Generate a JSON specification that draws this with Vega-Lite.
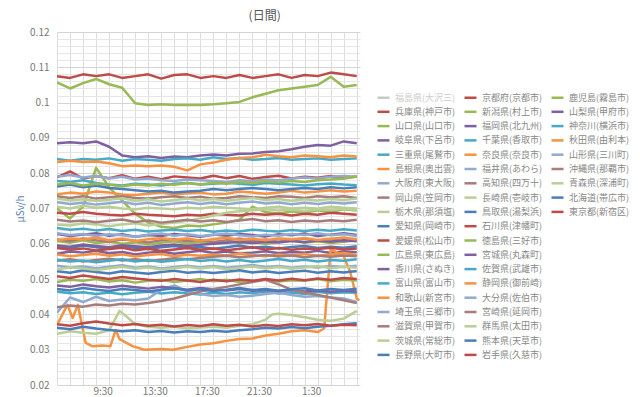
{
"$schema":"https://vega.github.io/schema/vega-lite/v6.json",
"width":303,"height":353,
"autosize":{"type":"none"},
"padding":{"left":57,"top":32,"right":280,"bottom":12},
"background":"white",
"title":{"text":"(日間)","anchor":"start","dx":233,"offset":4,"fontSize":12,"fontWeight":"normal","color":"#555555","font":"Noto Sans CJK JP"},
"datasets":{
"names":[{"s":0,"n":"福島県(大沢三)"},{"s":1,"n":"兵庫県(神戸市)"},{"s":2,"n":"山口県(山口市)"},{"s":3,"n":"岐阜県(下呂市)"},{"s":4,"n":"三重県(尾鷲市)"},{"s":5,"n":"島根県(奥出雲)"},{"s":6,"n":"大阪府(東大阪)"},{"s":7,"n":"岡山県(笠岡市)"},{"s":8,"n":"栃木県(那須塩)"},{"s":9,"n":"愛知県(岡崎市)"},{"s":10,"n":"愛媛県(松山市)"},{"s":11,"n":"広島県(東広島)"},{"s":12,"n":"香川県(さぬき)"},{"s":13,"n":"富山県(富山市)"},{"s":14,"n":"和歌山(新宮市)"},{"s":15,"n":"埼玉県(三郷市)"},{"s":16,"n":"滋賀県(甲賀市)"},{"s":17,"n":"茨城県(常総市)"},{"s":18,"n":"長野県(大町市)"},{"s":19,"n":"京都府(京都市)"},{"s":20,"n":"新潟県(村上市)"},{"s":21,"n":"福岡県(北九州)"},{"s":22,"n":"千葉県(香取市)"},{"s":23,"n":"奈良県(奈良市)"},{"s":24,"n":"福井県(あわら)"},{"s":25,"n":"高知県(四万十)"},{"s":26,"n":"長崎県(壱岐市)"},{"s":27,"n":"鳥取県(湯梨浜)"},{"s":28,"n":"石川県(津幡町)"},{"s":29,"n":"徳島県(三好市)"},{"s":30,"n":"宮城県(丸森町)"},{"s":31,"n":"佐賀県(武雄市)"},{"s":32,"n":"静岡県(御前崎)"},{"s":33,"n":"大分県(佐伯市)"},{"s":34,"n":"宮崎県(延岡市)"},{"s":35,"n":"群馬県(太田市)"},{"s":36,"n":"熊本県(天草市)"},{"s":37,"n":"岩手県(久慈市)"},{"s":38,"n":"鹿児島(霧島市)"},{"s":39,"n":"山梨県(甲府市)"},{"s":40,"n":"神奈川(横浜市)"},{"s":41,"n":"秋田県(由利本)"},{"s":42,"n":"山形県(三川町)"},{"s":43,"n":"沖縄県(那覇市)"},{"s":44,"n":"青森県(深浦町)"},{"s":45,"n":"北海道(帯広市)"},{"s":46,"n":"東京都(新宿区)"}],
"d":[
{"s":1,"t":6,"v":0.0788},{"s":1,"t":7,"v":0.0805},{"s":1,"t":8,"v":0.0785},{"s":1,"t":9,"v":0.0792},{"s":1,"t":10,"v":0.0786},{"s":1,"t":11,"v":0.0794},{"s":1,"t":12,"v":0.0784},{"s":1,"t":13,"v":0.079},{"s":1,"t":14,"v":0.0783},{"s":1,"t":15,"v":0.0791},{"s":1,"t":16,"v":0.0788},{"s":1,"t":17,"v":0.0785},{"s":1,"t":18,"v":0.0793},{"s":1,"t":19,"v":0.0786},{"s":1,"t":20,"v":0.0792},{"s":1,"t":21,"v":0.0784},{"s":1,"t":22,"v":0.0789},{"s":1,"t":23,"v":0.0793},{"s":1,"t":24,"v":0.0785},{"s":1,"t":25,"v":0.079},{"s":1,"t":26,"v":0.0787},{"s":1,"t":27,"v":0.0792},{"s":1,"t":28,"v":0.0786},{"s":1,"t":29,"v":0.0791},
{"s":2,"t":6,"v":0.07},{"s":2,"t":7,"v":0.0672},{"s":2,"t":8,"v":0.0705},{"s":2,"t":9,"v":0.0815},{"s":2,"t":10,"v":0.076},{"s":2,"t":11,"v":0.0722},{"s":2,"t":12,"v":0.0685},{"s":2,"t":13,"v":0.066},{"s":2,"t":14,"v":0.0648},{"s":2,"t":15,"v":0.0645},{"s":2,"t":16,"v":0.0652},{"s":2,"t":17,"v":0.065},{"s":2,"t":18,"v":0.0655},{"s":2,"t":19,"v":0.066},{"s":2,"t":20,"v":0.0668},{"s":2,"t":21,"v":0.0705},{"s":2,"t":22,"v":0.069},{"s":2,"t":23,"v":0.0685},{"s":2,"t":24,"v":0.0692},{"s":2,"t":25,"v":0.0688},{"s":2,"t":26,"v":0.0695},{"s":2,"t":27,"v":0.069},{"s":2,"t":28,"v":0.0698},{"s":2,"t":29,"v":0.0694},
{"s":3,"t":6,"v":0.0572},{"s":3,"t":7,"v":0.0578},{"s":3,"t":8,"v":0.0575},{"s":3,"t":9,"v":0.058},{"s":3,"t":10,"v":0.0573},{"s":3,"t":11,"v":0.0577},{"s":3,"t":12,"v":0.057},{"s":3,"t":13,"v":0.0575},{"s":3,"t":14,"v":0.0578},{"s":3,"t":15,"v":0.0572},{"s":3,"t":16,"v":0.0576},{"s":3,"t":17,"v":0.058},{"s":3,"t":18,"v":0.0574},{"s":3,"t":19,"v":0.0578},{"s":3,"t":20,"v":0.0572},{"s":3,"t":21,"v":0.0575},{"s":3,"t":22,"v":0.0579},{"s":3,"t":23,"v":0.0573},{"s":3,"t":24,"v":0.0577},{"s":3,"t":25,"v":0.0575},{"s":3,"t":26,"v":0.058},{"s":3,"t":27,"v":0.0574},{"s":3,"t":28,"v":0.0578},{"s":3,"t":29,"v":0.0576},
{"s":4,"t":6,"v":0.0778},{"s":4,"t":7,"v":0.0775},{"s":4,"t":8,"v":0.078},{"s":4,"t":9,"v":0.0772},{"s":4,"t":10,"v":0.0768},{"s":4,"t":11,"v":0.0765},{"s":4,"t":12,"v":0.077},{"s":4,"t":13,"v":0.0768},{"s":4,"t":14,"v":0.0765},{"s":4,"t":15,"v":0.077},{"s":4,"t":16,"v":0.0772},{"s":4,"t":17,"v":0.0768},{"s":4,"t":18,"v":0.077},{"s":4,"t":19,"v":0.0773},{"s":4,"t":20,"v":0.077},{"s":4,"t":21,"v":0.0767},{"s":4,"t":22,"v":0.0772},{"s":4,"t":23,"v":0.077},{"s":4,"t":24,"v":0.0768},{"s":4,"t":25,"v":0.0765},{"s":4,"t":26,"v":0.0769},{"s":4,"t":27,"v":0.0771},{"s":4,"t":28,"v":0.0768},{"s":4,"t":29,"v":0.0766},
{"s":5,"t":6,"v":0.074},{"s":5,"t":7,"v":0.0745},{"s":5,"t":8,"v":0.0742},{"s":5,"t":9,"v":0.0748},{"s":5,"t":10,"v":0.0745},{"s":5,"t":11,"v":0.074},{"s":5,"t":12,"v":0.0738},{"s":5,"t":13,"v":0.0742},{"s":5,"t":14,"v":0.0745},{"s":5,"t":15,"v":0.074},{"s":5,"t":16,"v":0.0743},{"s":5,"t":17,"v":0.0745},{"s":5,"t":18,"v":0.074},{"s":5,"t":19,"v":0.0742},{"s":5,"t":20,"v":0.0748},{"s":5,"t":21,"v":0.0745},{"s":5,"t":22,"v":0.0742},{"s":5,"t":23,"v":0.0745},{"s":5,"t":24,"v":0.075},{"s":5,"t":25,"v":0.0745},{"s":5,"t":26,"v":0.0748},{"s":5,"t":27,"v":0.0752},{"s":5,"t":28,"v":0.0748},{"s":5,"t":29,"v":0.075},
{"s":6,"t":6,"v":0.079},{"s":6,"t":7,"v":0.0795},{"s":6,"t":8,"v":0.0788},{"s":6,"t":9,"v":0.0792},{"s":6,"t":10,"v":0.0785},{"s":6,"t":11,"v":0.079},{"s":6,"t":12,"v":0.0782},{"s":6,"t":13,"v":0.0785},{"s":6,"t":14,"v":0.078},{"s":6,"t":15,"v":0.0778},{"s":6,"t":16,"v":0.0782},{"s":6,"t":17,"v":0.078},{"s":6,"t":18,"v":0.0778},{"s":6,"t":19,"v":0.0775},{"s":6,"t":20,"v":0.078},{"s":6,"t":21,"v":0.0778},{"s":6,"t":22,"v":0.0782},{"s":6,"t":23,"v":0.078},{"s":6,"t":24,"v":0.0785},{"s":6,"t":25,"v":0.0788},{"s":6,"t":26,"v":0.0785},{"s":6,"t":27,"v":0.079},{"s":6,"t":28,"v":0.0792},{"s":6,"t":29,"v":0.079},
{"s":7,"t":6,"v":0.0735},{"s":7,"t":7,"v":0.073},{"s":7,"t":8,"v":0.0735},{"s":7,"t":9,"v":0.0728},{"s":7,"t":10,"v":0.0732},{"s":7,"t":11,"v":0.0735},{"s":7,"t":12,"v":0.073},{"s":7,"t":13,"v":0.0728},{"s":7,"t":14,"v":0.0732},{"s":7,"t":15,"v":0.0735},{"s":7,"t":16,"v":0.073},{"s":7,"t":17,"v":0.0733},{"s":7,"t":18,"v":0.0728},{"s":7,"t":19,"v":0.073},{"s":7,"t":20,"v":0.0735},{"s":7,"t":21,"v":0.0732},{"s":7,"t":22,"v":0.073},{"s":7,"t":23,"v":0.0735},{"s":7,"t":24,"v":0.0733},{"s":7,"t":25,"v":0.073},{"s":7,"t":26,"v":0.0735},{"s":7,"t":27,"v":0.0732},{"s":7,"t":28,"v":0.0735},{"s":7,"t":29,"v":0.073},
{"s":8,"t":6,"v":0.0705},{"s":8,"t":7,"v":0.07},{"s":8,"t":8,"v":0.0708},{"s":8,"t":9,"v":0.0702},{"s":8,"t":10,"v":0.0705},{"s":8,"t":11,"v":0.07},{"s":8,"t":12,"v":0.0698},{"s":8,"t":13,"v":0.0702},{"s":8,"t":14,"v":0.07},{"s":8,"t":15,"v":0.0698},{"s":8,"t":16,"v":0.0702},{"s":8,"t":17,"v":0.07},{"s":8,"t":18,"v":0.0705},{"s":8,"t":19,"v":0.0702},{"s":8,"t":20,"v":0.07},{"s":8,"t":21,"v":0.0698},{"s":8,"t":22,"v":0.0702},{"s":8,"t":23,"v":0.0705},{"s":8,"t":24,"v":0.07},{"s":8,"t":25,"v":0.0702},{"s":8,"t":26,"v":0.07},{"s":8,"t":27,"v":0.0705},{"s":8,"t":28,"v":0.0702},{"s":8,"t":29,"v":0.07},
{"s":9,"t":6,"v":0.0762},{"s":9,"t":7,"v":0.0768},{"s":9,"t":8,"v":0.076},{"s":9,"t":9,"v":0.0765},{"s":9,"t":10,"v":0.0758},{"s":9,"t":11,"v":0.0755},{"s":9,"t":12,"v":0.0752},{"s":9,"t":13,"v":0.0748},{"s":9,"t":14,"v":0.075},{"s":9,"t":15,"v":0.0745},{"s":9,"t":16,"v":0.0748},{"s":9,"t":17,"v":0.075},{"s":9,"t":18,"v":0.0755},{"s":9,"t":19,"v":0.0752},{"s":9,"t":20,"v":0.0755},{"s":9,"t":21,"v":0.0758},{"s":9,"t":22,"v":0.0755},{"s":9,"t":23,"v":0.0752},{"s":9,"t":24,"v":0.0755},{"s":9,"t":25,"v":0.0758},{"s":9,"t":26,"v":0.0755},{"s":9,"t":27,"v":0.076},{"s":9,"t":28,"v":0.0757},{"s":9,"t":29,"v":0.076},
{"s":10,"t":6,"v":0.0688},{"s":10,"t":7,"v":0.0685},{"s":10,"t":8,"v":0.069},{"s":10,"t":9,"v":0.0685},{"s":10,"t":10,"v":0.0682},{"s":10,"t":11,"v":0.068},{"s":10,"t":12,"v":0.0685},{"s":10,"t":13,"v":0.0682},{"s":10,"t":14,"v":0.068},{"s":10,"t":15,"v":0.0678},{"s":10,"t":16,"v":0.0682},{"s":10,"t":17,"v":0.068},{"s":10,"t":18,"v":0.0685},{"s":10,"t":19,"v":0.0682},{"s":10,"t":20,"v":0.068},{"s":10,"t":21,"v":0.0685},{"s":10,"t":22,"v":0.0682},{"s":10,"t":23,"v":0.0685},{"s":10,"t":24,"v":0.068},{"s":10,"t":25,"v":0.0685},{"s":10,"t":26,"v":0.0682},{"s":10,"t":27,"v":0.0688},{"s":10,"t":28,"v":0.0685},{"s":10,"t":29,"v":0.0682},
{"s":11,"t":6,"v":0.0608},{"s":11,"t":7,"v":0.0603},{"s":11,"t":8,"v":0.061},{"s":11,"t":9,"v":0.0602},{"s":11,"t":10,"v":0.0606},{"s":11,"t":11,"v":0.06},{"s":11,"t":12,"v":0.0604},{"s":11,"t":13,"v":0.0598},{"s":11,"t":14,"v":0.0603},{"s":11,"t":15,"v":0.0607},{"s":11,"t":16,"v":0.06},{"s":11,"t":17,"v":0.0605},{"s":11,"t":18,"v":0.0602},{"s":11,"t":19,"v":0.0608},{"s":11,"t":20,"v":0.0603},{"s":11,"t":21,"v":0.0606},{"s":11,"t":22,"v":0.06},{"s":11,"t":23,"v":0.0605},{"s":11,"t":24,"v":0.0609},{"s":11,"t":25,"v":0.0603},{"s":11,"t":26,"v":0.0607},{"s":11,"t":27,"v":0.0602},{"s":11,"t":28,"v":0.0606},{"s":11,"t":29,"v":0.061},
{"s":12,"t":6,"v":0.0628},{"s":12,"t":7,"v":0.0622},{"s":12,"t":8,"v":0.0626},{"s":12,"t":9,"v":0.063},{"s":12,"t":10,"v":0.0623},{"s":12,"t":11,"v":0.0627},{"s":12,"t":12,"v":0.062},{"s":12,"t":13,"v":0.0625},{"s":12,"t":14,"v":0.0622},{"s":12,"t":15,"v":0.0628},{"s":12,"t":16,"v":0.0624},{"s":12,"t":17,"v":0.062},{"s":12,"t":18,"v":0.0626},{"s":12,"t":19,"v":0.0623},{"s":12,"t":20,"v":0.0628},{"s":12,"t":21,"v":0.0625},{"s":12,"t":22,"v":0.0621},{"s":12,"t":23,"v":0.0627},{"s":12,"t":24,"v":0.0624},{"s":12,"t":25,"v":0.0629},{"s":12,"t":26,"v":0.0622},{"s":12,"t":27,"v":0.0626},{"s":12,"t":28,"v":0.063},{"s":12,"t":29,"v":0.0625},
{"s":13,"t":6,"v":0.0645},{"s":13,"t":7,"v":0.064},{"s":13,"t":8,"v":0.0643},{"s":13,"t":9,"v":0.0638},{"s":13,"t":10,"v":0.0642},{"s":13,"t":11,"v":0.0636},{"s":13,"t":12,"v":0.064},{"s":13,"t":13,"v":0.0635},{"s":13,"t":14,"v":0.0638},{"s":13,"t":15,"v":0.064},{"s":13,"t":16,"v":0.0636},{"s":13,"t":17,"v":0.0639},{"s":13,"t":18,"v":0.0634},{"s":13,"t":19,"v":0.0638},{"s":13,"t":20,"v":0.0635},{"s":13,"t":21,"v":0.064},{"s":13,"t":22,"v":0.0637},{"s":13,"t":23,"v":0.0635},{"s":13,"t":24,"v":0.0639},{"s":13,"t":25,"v":0.0636},{"s":13,"t":26,"v":0.064},{"s":13,"t":27,"v":0.0637},{"s":13,"t":28,"v":0.0641},{"s":13,"t":29,"v":0.0638},
{"s":14,"t":6,"v":0.037},{"s":14,"t":6.8,"v":0.0427},{"s":14,"t":7.2,"v":0.039},{"s":14,"t":7.6,"v":0.0427},{"s":14,"t":8.2,"v":0.0319},{"s":14,"t":8.7,"v":0.031},{"s":14,"t":9.5,"v":0.0312},{"s":14,"t":10.1,"v":0.031},{"s":14,"t":10.5,"v":0.0356},{"s":14,"t":10.8,"v":0.033},{"s":14,"t":11.8,"v":0.031},{"s":14,"t":12.7,"v":0.03},{"s":14,"t":14,"v":0.0302},{"s":14,"t":14.9,"v":0.03},{"s":14,"t":16,"v":0.0308},{"s":14,"t":17,"v":0.0315},{"s":14,"t":18,"v":0.0318},{"s":14,"t":19,"v":0.0325},{"s":14,"t":20,"v":0.033},{"s":14,"t":21,"v":0.0332},{"s":14,"t":22,"v":0.034},{"s":14,"t":23,"v":0.0345},{"s":14,"t":24,"v":0.0352},{"s":14,"t":25,"v":0.0355},{"s":14,"t":26,"v":0.035},{"s":14,"t":26.5,"v":0.036},{"s":14,"t":27,"v":0.0585},{"s":14,"t":27.5,"v":0.0575},{"s":14,"t":28,"v":0.0565},{"s":14,"t":28.5,"v":0.052},{"s":14,"t":29,"v":0.0445},{"s":14,"t":29.2,"v":0.044},
{"s":15,"t":6,"v":0.063},{"s":15,"t":7,"v":0.0625},{"s":15,"t":8,"v":0.0628},{"s":15,"t":9,"v":0.0622},{"s":15,"t":10,"v":0.0627},{"s":15,"t":11,"v":0.0624},{"s":15,"t":12,"v":0.062},{"s":15,"t":13,"v":0.0626},{"s":15,"t":14,"v":0.0629},{"s":15,"t":15,"v":0.0623},{"s":15,"t":16,"v":0.0627},{"s":15,"t":17,"v":0.0622},{"s":15,"t":18,"v":0.0625},{"s":15,"t":19,"v":0.0629},{"s":15,"t":20,"v":0.0624},{"s":15,"t":21,"v":0.0621},{"s":15,"t":22,"v":0.0626},{"s":15,"t":23,"v":0.0623},{"s":15,"t":24,"v":0.0628},{"s":15,"t":25,"v":0.0625},{"s":15,"t":26,"v":0.063},{"s":15,"t":27,"v":0.0624},{"s":15,"t":28,"v":0.0627},{"s":15,"t":29,"v":0.0622},
{"s":16,"t":6,"v":0.0612},{"s":16,"t":7,"v":0.0608},{"s":16,"t":8,"v":0.0615},{"s":16,"t":9,"v":0.061},{"s":16,"t":10,"v":0.0606},{"s":16,"t":11,"v":0.0612},{"s":16,"t":12,"v":0.0609},{"s":16,"t":13,"v":0.0604},{"s":16,"t":14,"v":0.061},{"s":16,"t":15,"v":0.0613},{"s":16,"t":16,"v":0.0607},{"s":16,"t":17,"v":0.0611},{"s":16,"t":18,"v":0.0605},{"s":16,"t":19,"v":0.061},{"s":16,"t":20,"v":0.0614},{"s":16,"t":21,"v":0.0608},{"s":16,"t":22,"v":0.0612},{"s":16,"t":23,"v":0.0606},{"s":16,"t":24,"v":0.0611},{"s":16,"t":25,"v":0.0615},{"s":16,"t":26,"v":0.0609},{"s":16,"t":27,"v":0.0613},{"s":16,"t":28,"v":0.0607},{"s":16,"t":29,"v":0.0612},
{"s":17,"t":6,"v":0.0345},{"s":17,"t":7,"v":0.0352},{"s":17,"t":8,"v":0.0348},{"s":17,"t":9,"v":0.0345},{"s":17,"t":10,"v":0.0355},{"s":17,"t":10.8,"v":0.041},{"s":17,"t":11.3,"v":0.0395},{"s":17,"t":12,"v":0.0372},{"s":17,"t":13,"v":0.0365},{"s":17,"t":14,"v":0.0362},{"s":17,"t":15,"v":0.0365},{"s":17,"t":16,"v":0.036},{"s":17,"t":17,"v":0.0363},{"s":17,"t":18,"v":0.0365},{"s":17,"t":19,"v":0.0362},{"s":17,"t":20,"v":0.0368},{"s":17,"t":21,"v":0.0372},{"s":17,"t":22,"v":0.0385},{"s":17,"t":22.5,"v":0.04},{"s":17,"t":23,"v":0.0402},{"s":17,"t":24,"v":0.0398},{"s":17,"t":25,"v":0.0392},{"s":17,"t":26,"v":0.0385},{"s":17,"t":27,"v":0.0382},{"s":17,"t":28,"v":0.0388},{"s":17,"t":29,"v":0.041},
{"s":18,"t":6,"v":0.0592},{"s":18,"t":7,"v":0.0588},{"s":18,"t":8,"v":0.0595},{"s":18,"t":9,"v":0.059},{"s":18,"t":10,"v":0.0586},{"s":18,"t":11,"v":0.0592},{"s":18,"t":12,"v":0.0589},{"s":18,"t":13,"v":0.0585},{"s":18,"t":14,"v":0.059},{"s":18,"t":15,"v":0.0594},{"s":18,"t":16,"v":0.0588},{"s":18,"t":17,"v":0.0591},{"s":18,"t":18,"v":0.0586},{"s":18,"t":19,"v":0.059},{"s":18,"t":20,"v":0.0595},{"s":18,"t":21,"v":0.0589},{"s":18,"t":22,"v":0.0592},{"s":18,"t":23,"v":0.0587},{"s":18,"t":24,"v":0.0591},{"s":18,"t":25,"v":0.0594},{"s":18,"t":26,"v":0.0588},{"s":18,"t":27,"v":0.0592},{"s":18,"t":28,"v":0.0589},{"s":18,"t":29,"v":0.0593},
{"s":19,"t":6,"v":0.1075},{"s":19,"t":7,"v":0.107},{"s":19,"t":8,"v":0.108},{"s":19,"t":9,"v":0.1075},{"s":19,"t":10,"v":0.108},{"s":19,"t":11,"v":0.107},{"s":19,"t":12,"v":0.1075},{"s":19,"t":13,"v":0.108},{"s":19,"t":14,"v":0.1068},{"s":19,"t":15,"v":0.1078},{"s":19,"t":16,"v":0.108},{"s":19,"t":17,"v":0.107},{"s":19,"t":18,"v":0.1075},{"s":19,"t":19,"v":0.107},{"s":19,"t":20,"v":0.1078},{"s":19,"t":21,"v":0.107},{"s":19,"t":22,"v":0.1075},{"s":19,"t":23,"v":0.108},{"s":19,"t":24,"v":0.107},{"s":19,"t":25,"v":0.1078},{"s":19,"t":26,"v":0.1075},{"s":19,"t":27,"v":0.1085},{"s":19,"t":28,"v":0.108},{"s":19,"t":29,"v":0.1075},
{"s":20,"t":6,"v":0.0492},{"s":20,"t":7,"v":0.0498},{"s":20,"t":8,"v":0.0495},{"s":20,"t":9,"v":0.05},{"s":20,"t":10,"v":0.0493},{"s":20,"t":11,"v":0.0497},{"s":20,"t":12,"v":0.049},{"s":20,"t":13,"v":0.0495},{"s":20,"t":14,"v":0.0498},{"s":20,"t":15,"v":0.0492},{"s":20,"t":16,"v":0.0496},{"s":20,"t":17,"v":0.05},{"s":20,"t":18,"v":0.0494},{"s":20,"t":19,"v":0.0498},{"s":20,"t":20,"v":0.0492},{"s":20,"t":21,"v":0.0495},{"s":20,"t":22,"v":0.0499},{"s":20,"t":23,"v":0.0493},{"s":20,"t":24,"v":0.0497},{"s":20,"t":25,"v":0.0495},{"s":20,"t":26,"v":0.05},{"s":20,"t":27,"v":0.0494},{"s":20,"t":28,"v":0.0498},{"s":20,"t":29,"v":0.0496},
{"s":21,"t":6,"v":0.0595},{"s":21,"t":7,"v":0.0592},{"s":21,"t":8,"v":0.0598},{"s":21,"t":9,"v":0.0594},{"s":21,"t":10,"v":0.059},{"s":21,"t":11,"v":0.0596},{"s":21,"t":12,"v":0.0593},{"s":21,"t":13,"v":0.059},{"s":21,"t":14,"v":0.0595},{"s":21,"t":15,"v":0.0598},{"s":21,"t":16,"v":0.0594},{"s":21,"t":17,"v":0.0597},{"s":21,"t":18,"v":0.06},{"s":21,"t":19,"v":0.0603},{"s":21,"t":20,"v":0.0605},{"s":21,"t":21,"v":0.0602},{"s":21,"t":22,"v":0.0606},{"s":21,"t":23,"v":0.0604},{"s":21,"t":24,"v":0.0608},{"s":21,"t":25,"v":0.0605},{"s":21,"t":26,"v":0.0609},{"s":21,"t":27,"v":0.0606},{"s":21,"t":28,"v":0.061},{"s":21,"t":29,"v":0.0607},
{"s":22,"t":6,"v":0.0465},{"s":22,"t":7,"v":0.046},{"s":22,"t":8,"v":0.0463},{"s":22,"t":9,"v":0.0458},{"s":22,"t":10,"v":0.0462},{"s":22,"t":11,"v":0.0457},{"s":22,"t":12,"v":0.0461},{"s":22,"t":13,"v":0.0465},{"s":22,"t":14,"v":0.0459},{"s":22,"t":15,"v":0.0463},{"s":22,"t":16,"v":0.046},{"s":22,"t":17,"v":0.0456},{"s":22,"t":18,"v":0.0462},{"s":22,"t":19,"v":0.0458},{"s":22,"t":20,"v":0.0463},{"s":22,"t":21,"v":0.046},{"s":22,"t":22,"v":0.0465},{"s":22,"t":23,"v":0.0459},{"s":22,"t":24,"v":0.0462},{"s":22,"t":25,"v":0.0458},{"s":22,"t":26,"v":0.0464},{"s":22,"t":27,"v":0.046},{"s":22,"t":28,"v":0.0463},{"s":22,"t":29,"v":0.0461},
{"s":23,"t":6,"v":0.057},{"s":23,"t":7,"v":0.0565},{"s":23,"t":8,"v":0.0568},{"s":23,"t":9,"v":0.0572},{"s":23,"t":10,"v":0.0566},{"s":23,"t":11,"v":0.057},{"s":23,"t":12,"v":0.0564},{"s":23,"t":13,"v":0.0568},{"s":23,"t":14,"v":0.0571},{"s":23,"t":15,"v":0.0565},{"s":23,"t":16,"v":0.0569},{"s":23,"t":17,"v":0.0566},{"s":23,"t":18,"v":0.057},{"s":23,"t":19,"v":0.0567},{"s":23,"t":20,"v":0.0572},{"s":23,"t":21,"v":0.0568},{"s":23,"t":22,"v":0.0565},{"s":23,"t":23,"v":0.057},{"s":23,"t":24,"v":0.0567},{"s":23,"t":25,"v":0.0571},{"s":23,"t":26,"v":0.0566},{"s":23,"t":27,"v":0.057},{"s":23,"t":28,"v":0.0574},{"s":23,"t":29,"v":0.0568},
{"s":24,"t":6,"v":0.0405},{"s":24,"t":7,"v":0.0448},{"s":24,"t":8,"v":0.0435},{"s":24,"t":9,"v":0.045},{"s":24,"t":10,"v":0.0438},{"s":24,"t":11,"v":0.0442},{"s":24,"t":12,"v":0.044},{"s":24,"t":13,"v":0.0445},{"s":24,"t":14,"v":0.047},{"s":24,"t":15,"v":0.0482},{"s":24,"t":16,"v":0.0465},{"s":24,"t":17,"v":0.0458},{"s":24,"t":18,"v":0.0452},{"s":24,"t":19,"v":0.0455},{"s":24,"t":20,"v":0.045},{"s":24,"t":21,"v":0.0453},{"s":24,"t":22,"v":0.0458},{"s":24,"t":23,"v":0.0462},{"s":24,"t":24,"v":0.0455},{"s":24,"t":25,"v":0.045},{"s":24,"t":26,"v":0.0452},{"s":24,"t":27,"v":0.0448},{"s":24,"t":28,"v":0.0445},{"s":24,"t":29,"v":0.0435},
{"s":25,"t":6,"v":0.0552},{"s":25,"t":7,"v":0.0556},{"s":25,"t":8,"v":0.055},{"s":25,"t":9,"v":0.0554},{"s":25,"t":10,"v":0.0558},{"s":25,"t":11,"v":0.0553},{"s":25,"t":12,"v":0.0556},{"s":25,"t":13,"v":0.0551},{"s":25,"t":14,"v":0.0555},{"s":25,"t":15,"v":0.0559},{"s":25,"t":16,"v":0.0556},{"s":25,"t":17,"v":0.056},{"s":25,"t":18,"v":0.0563},{"s":25,"t":19,"v":0.0566},{"s":25,"t":20,"v":0.0562},{"s":25,"t":21,"v":0.0565},{"s":25,"t":22,"v":0.0568},{"s":25,"t":23,"v":0.0564},{"s":25,"t":24,"v":0.0567},{"s":25,"t":25,"v":0.0562},{"s":25,"t":26,"v":0.0566},{"s":25,"t":27,"v":0.0563},{"s":25,"t":28,"v":0.0567},{"s":25,"t":29,"v":0.0565},
{"s":26,"t":6,"v":0.0655},{"s":26,"t":7,"v":0.0652},{"s":26,"t":8,"v":0.0658},{"s":26,"t":9,"v":0.0655},{"s":26,"t":10,"v":0.065},{"s":26,"t":11,"v":0.0655},{"s":26,"t":12,"v":0.0658},{"s":26,"t":13,"v":0.0652},{"s":26,"t":14,"v":0.0656},{"s":26,"t":15,"v":0.066},{"s":26,"t":16,"v":0.0665},{"s":26,"t":17,"v":0.0672},{"s":26,"t":18,"v":0.068},{"s":26,"t":19,"v":0.0688},{"s":26,"t":20,"v":0.0692},{"s":26,"t":21,"v":0.0695},{"s":26,"t":22,"v":0.0698},{"s":26,"t":23,"v":0.0694},{"s":26,"t":24,"v":0.0697},{"s":26,"t":25,"v":0.0693},{"s":26,"t":26,"v":0.0698},{"s":26,"t":27,"v":0.0695},{"s":26,"t":28,"v":0.0699},{"s":26,"t":29,"v":0.0696},
{"s":27,"t":6,"v":0.0522},{"s":27,"t":7,"v":0.0518},{"s":27,"t":8,"v":0.0525},{"s":27,"t":9,"v":0.052},{"s":27,"t":10,"v":0.0516},{"s":27,"t":11,"v":0.0522},{"s":27,"t":12,"v":0.0519},{"s":27,"t":13,"v":0.0515},{"s":27,"t":14,"v":0.052},{"s":27,"t":15,"v":0.0524},{"s":27,"t":16,"v":0.0518},{"s":27,"t":17,"v":0.0521},{"s":27,"t":18,"v":0.0517},{"s":27,"t":19,"v":0.0521},{"s":27,"t":20,"v":0.0525},{"s":27,"t":21,"v":0.0519},{"s":27,"t":22,"v":0.0522},{"s":27,"t":23,"v":0.0517},{"s":27,"t":24,"v":0.0521},{"s":27,"t":25,"v":0.0524},{"s":27,"t":26,"v":0.0518},{"s":27,"t":27,"v":0.0522},{"s":27,"t":28,"v":0.0519},{"s":27,"t":29,"v":0.0523},
{"s":28,"t":6,"v":0.0588},{"s":28,"t":7,"v":0.0583},{"s":28,"t":8,"v":0.0587},{"s":28,"t":9,"v":0.0581},{"s":28,"t":10,"v":0.0585},{"s":28,"t":11,"v":0.0589},{"s":28,"t":12,"v":0.0582},{"s":28,"t":13,"v":0.0586},{"s":28,"t":14,"v":0.058},{"s":28,"t":15,"v":0.0584},{"s":28,"t":16,"v":0.0588},{"s":28,"t":17,"v":0.0583},{"s":28,"t":18,"v":0.0587},{"s":28,"t":19,"v":0.0582},{"s":28,"t":20,"v":0.0586},{"s":28,"t":21,"v":0.059},{"s":28,"t":22,"v":0.0584},{"s":28,"t":23,"v":0.0588},{"s":28,"t":24,"v":0.0583},{"s":28,"t":25,"v":0.0587},{"s":28,"t":26,"v":0.0585},{"s":28,"t":27,"v":0.0589},{"s":28,"t":28,"v":0.0584},{"s":28,"t":29,"v":0.0587},
{"s":29,"t":6,"v":0.0768},{"s":29,"t":7,"v":0.0772},{"s":29,"t":8,"v":0.0765},{"s":29,"t":9,"v":0.077},{"s":29,"t":10,"v":0.0767},{"s":29,"t":11,"v":0.0763},{"s":29,"t":12,"v":0.0768},{"s":29,"t":13,"v":0.0765},{"s":29,"t":14,"v":0.077},{"s":29,"t":15,"v":0.0767},{"s":29,"t":16,"v":0.0772},{"s":29,"t":17,"v":0.0768},{"s":29,"t":18,"v":0.0773},{"s":29,"t":19,"v":0.077},{"s":29,"t":20,"v":0.0775},{"s":29,"t":21,"v":0.0772},{"s":29,"t":22,"v":0.0777},{"s":29,"t":23,"v":0.0774},{"s":29,"t":24,"v":0.0778},{"s":29,"t":25,"v":0.0775},{"s":29,"t":26,"v":0.078},{"s":29,"t":27,"v":0.0782},{"s":29,"t":28,"v":0.0785},{"s":29,"t":29,"v":0.079},
{"s":30,"t":6,"v":0.0482},{"s":30,"t":7,"v":0.0478},{"s":30,"t":8,"v":0.0485},{"s":30,"t":9,"v":0.048},{"s":30,"t":10,"v":0.0476},{"s":30,"t":11,"v":0.0481},{"s":30,"t":12,"v":0.0477},{"s":30,"t":13,"v":0.0473},{"s":30,"t":14,"v":0.0478},{"s":30,"t":15,"v":0.0474},{"s":30,"t":16,"v":0.047},{"s":30,"t":17,"v":0.0475},{"s":30,"t":18,"v":0.0471},{"s":30,"t":19,"v":0.0468},{"s":30,"t":20,"v":0.0472},{"s":30,"t":21,"v":0.0467},{"s":30,"t":22,"v":0.047},{"s":30,"t":23,"v":0.0466},{"s":30,"t":24,"v":0.0469},{"s":30,"t":25,"v":0.0465},{"s":30,"t":26,"v":0.0468},{"s":30,"t":27,"v":0.0464},{"s":30,"t":28,"v":0.0467},{"s":30,"t":29,"v":0.0465},
{"s":31,"t":6,"v":0.0555},{"s":31,"t":7,"v":0.055},{"s":31,"t":8,"v":0.0553},{"s":31,"t":9,"v":0.0548},{"s":31,"t":10,"v":0.0552},{"s":31,"t":11,"v":0.0556},{"s":31,"t":12,"v":0.055},{"s":31,"t":13,"v":0.0554},{"s":31,"t":14,"v":0.0549},{"s":31,"t":15,"v":0.0553},{"s":31,"t":16,"v":0.0557},{"s":31,"t":17,"v":0.0551},{"s":31,"t":18,"v":0.0555},{"s":31,"t":19,"v":0.055},{"s":31,"t":20,"v":0.0554},{"s":31,"t":21,"v":0.0549},{"s":31,"t":22,"v":0.0553},{"s":31,"t":23,"v":0.0557},{"s":31,"t":24,"v":0.0551},{"s":31,"t":25,"v":0.0555},{"s":31,"t":26,"v":0.055},{"s":31,"t":27,"v":0.0554},{"s":31,"t":28,"v":0.0552},{"s":31,"t":29,"v":0.0556},
{"s":32,"t":6,"v":0.061},{"s":32,"t":7,"v":0.0615},{"s":32,"t":8,"v":0.0612},{"s":32,"t":9,"v":0.0617},{"s":32,"t":10,"v":0.061},{"s":32,"t":11,"v":0.0614},{"s":32,"t":12,"v":0.0608},{"s":32,"t":13,"v":0.0613},{"s":32,"t":14,"v":0.0616},{"s":32,"t":15,"v":0.0611},{"s":32,"t":16,"v":0.0615},{"s":32,"t":17,"v":0.0609},{"s":32,"t":18,"v":0.0613},{"s":32,"t":19,"v":0.0617},{"s":32,"t":20,"v":0.0611},{"s":32,"t":21,"v":0.0614},{"s":32,"t":22,"v":0.061},{"s":32,"t":23,"v":0.0615},{"s":32,"t":24,"v":0.0612},{"s":32,"t":25,"v":0.0616},{"s":32,"t":26,"v":0.0611},{"s":32,"t":27,"v":0.0614},{"s":32,"t":28,"v":0.0618},{"s":32,"t":29,"v":0.0612},
{"s":33,"t":6,"v":0.0538},{"s":33,"t":7,"v":0.0533},{"s":33,"t":8,"v":0.0536},{"s":33,"t":9,"v":0.0531},{"s":33,"t":10,"v":0.0535},{"s":33,"t":11,"v":0.0539},{"s":33,"t":12,"v":0.0532},{"s":33,"t":13,"v":0.0536},{"s":33,"t":14,"v":0.053},{"s":33,"t":15,"v":0.0534},{"s":33,"t":16,"v":0.0538},{"s":33,"t":17,"v":0.0533},{"s":33,"t":18,"v":0.0537},{"s":33,"t":19,"v":0.0532},{"s":33,"t":20,"v":0.0536},{"s":33,"t":21,"v":0.054},{"s":33,"t":22,"v":0.0534},{"s":33,"t":23,"v":0.0537},{"s":33,"t":24,"v":0.0532},{"s":33,"t":25,"v":0.0536},{"s":33,"t":26,"v":0.0533},{"s":33,"t":27,"v":0.0537},{"s":33,"t":28,"v":0.0534},{"s":33,"t":29,"v":0.0538},
{"s":34,"t":6,"v":0.042},{"s":34,"t":7,"v":0.0425},{"s":34,"t":8,"v":0.0422},{"s":34,"t":9,"v":0.0428},{"s":34,"t":10,"v":0.0425},{"s":34,"t":11,"v":0.043},{"s":34,"t":12,"v":0.0428},{"s":34,"t":13,"v":0.0432},{"s":34,"t":14,"v":0.0438},{"s":34,"t":15,"v":0.0445},{"s":34,"t":16,"v":0.0455},{"s":34,"t":17,"v":0.0465},{"s":34,"t":18,"v":0.0472},{"s":34,"t":19,"v":0.0478},{"s":34,"t":20,"v":0.0485},{"s":34,"t":21,"v":0.0492},{"s":34,"t":22,"v":0.0498},{"s":34,"t":23,"v":0.0485},{"s":34,"t":24,"v":0.047},{"s":34,"t":25,"v":0.0462},{"s":34,"t":26,"v":0.0455},{"s":34,"t":27,"v":0.0448},{"s":34,"t":28,"v":0.044},{"s":34,"t":29,"v":0.0432},
{"s":35,"t":6,"v":0.0528},{"s":35,"t":7,"v":0.0533},{"s":35,"t":8,"v":0.053},{"s":35,"t":9,"v":0.0526},{"s":35,"t":10,"v":0.0531},{"s":35,"t":11,"v":0.0535},{"s":35,"t":12,"v":0.0529},{"s":35,"t":13,"v":0.0533},{"s":35,"t":14,"v":0.0527},{"s":35,"t":15,"v":0.0531},{"s":35,"t":16,"v":0.0535},{"s":35,"t":17,"v":0.053},{"s":35,"t":18,"v":0.0534},{"s":35,"t":19,"v":0.0528},{"s":35,"t":20,"v":0.0532},{"s":35,"t":21,"v":0.0536},{"s":35,"t":22,"v":0.053},{"s":35,"t":23,"v":0.0534},{"s":35,"t":24,"v":0.0529},{"s":35,"t":25,"v":0.0533},{"s":35,"t":26,"v":0.0537},{"s":35,"t":27,"v":0.0531},{"s":35,"t":28,"v":0.0535},{"s":35,"t":29,"v":0.0532},
{"s":36,"t":6,"v":0.0472},{"s":36,"t":7,"v":0.0468},{"s":36,"t":8,"v":0.0475},{"s":36,"t":9,"v":0.047},{"s":36,"t":10,"v":0.0466},{"s":36,"t":11,"v":0.0472},{"s":36,"t":12,"v":0.0469},{"s":36,"t":13,"v":0.0465},{"s":36,"t":14,"v":0.047},{"s":36,"t":15,"v":0.0474},{"s":36,"t":16,"v":0.0468},{"s":36,"t":17,"v":0.0471},{"s":36,"t":18,"v":0.0466},{"s":36,"t":19,"v":0.047},{"s":36,"t":20,"v":0.0475},{"s":36,"t":21,"v":0.0469},{"s":36,"t":22,"v":0.0472},{"s":36,"t":23,"v":0.0467},{"s":36,"t":24,"v":0.0471},{"s":36,"t":25,"v":0.0474},{"s":36,"t":26,"v":0.0468},{"s":36,"t":27,"v":0.0472},{"s":36,"t":28,"v":0.0469},{"s":36,"t":29,"v":0.0473},
{"s":37,"t":6,"v":0.0508},{"s":37,"t":7,"v":0.0503},{"s":37,"t":8,"v":0.051},{"s":37,"t":9,"v":0.0505},{"s":37,"t":10,"v":0.05},{"s":37,"t":11,"v":0.0506},{"s":37,"t":12,"v":0.0502},{"s":37,"t":13,"v":0.0498},{"s":37,"t":14,"v":0.0495},{"s":37,"t":15,"v":0.05},{"s":37,"t":16,"v":0.0496},{"s":37,"t":17,"v":0.0492},{"s":37,"t":18,"v":0.0498},{"s":37,"t":19,"v":0.0494},{"s":37,"t":20,"v":0.0499},{"s":37,"t":21,"v":0.0495},{"s":37,"t":22,"v":0.05},{"s":37,"t":23,"v":0.0496},{"s":37,"t":24,"v":0.0501},{"s":37,"t":25,"v":0.0497},{"s":37,"t":26,"v":0.0502},{"s":37,"t":27,"v":0.0498},{"s":37,"t":28,"v":0.0503},{"s":37,"t":29,"v":0.05},
{"s":38,"t":6,"v":0.1057},{"s":38,"t":7,"v":0.104},{"s":38,"t":8,"v":0.1055},{"s":38,"t":9,"v":0.1067},{"s":38,"t":10,"v":0.1052},{"s":38,"t":11,"v":0.1042},{"s":38,"t":12,"v":0.0998},{"s":38,"t":13,"v":0.0993},{"s":38,"t":14,"v":0.0995},{"s":38,"t":15,"v":0.0993},{"s":38,"t":16,"v":0.0993},{"s":38,"t":17,"v":0.0993},{"s":38,"t":18,"v":0.0995},{"s":38,"t":19,"v":0.0998},{"s":38,"t":20,"v":0.1002},{"s":38,"t":21,"v":0.1015},{"s":38,"t":22,"v":0.1025},{"s":38,"t":23,"v":0.1035},{"s":38,"t":24,"v":0.104},{"s":38,"t":25,"v":0.1045},{"s":38,"t":26,"v":0.105},{"s":38,"t":27,"v":0.1073},{"s":38,"t":28,"v":0.1045},{"s":38,"t":29,"v":0.105},
{"s":39,"t":6,"v":0.0885},{"s":39,"t":7,"v":0.0888},{"s":39,"t":8,"v":0.0885},{"s":39,"t":9,"v":0.089},{"s":39,"t":10,"v":0.0875},{"s":39,"t":11,"v":0.085},{"s":39,"t":12,"v":0.0845},{"s":39,"t":13,"v":0.0848},{"s":39,"t":14,"v":0.0843},{"s":39,"t":15,"v":0.0847},{"s":39,"t":16,"v":0.0845},{"s":39,"t":17,"v":0.085},{"s":39,"t":18,"v":0.0853},{"s":39,"t":19,"v":0.085},{"s":39,"t":20,"v":0.0855},{"s":39,"t":21,"v":0.0856},{"s":39,"t":22,"v":0.086},{"s":39,"t":23,"v":0.0862},{"s":39,"t":24,"v":0.0868},{"s":39,"t":25,"v":0.0875},{"s":39,"t":26,"v":0.088},{"s":39,"t":27,"v":0.0878},{"s":39,"t":28,"v":0.089},{"s":39,"t":29,"v":0.0885},
{"s":40,"t":6,"v":0.084},{"s":40,"t":7,"v":0.0835},{"s":40,"t":8,"v":0.084},{"s":40,"t":9,"v":0.0838},{"s":40,"t":10,"v":0.0842},{"s":40,"t":11,"v":0.0835},{"s":40,"t":12,"v":0.084},{"s":40,"t":13,"v":0.0838},{"s":40,"t":14,"v":0.0835},{"s":40,"t":15,"v":0.084},{"s":40,"t":16,"v":0.0842},{"s":40,"t":17,"v":0.0838},{"s":40,"t":18,"v":0.0845},{"s":40,"t":19,"v":0.084},{"s":40,"t":20,"v":0.0843},{"s":40,"t":21,"v":0.0838},{"s":40,"t":22,"v":0.084},{"s":40,"t":23,"v":0.0843},{"s":40,"t":24,"v":0.0838},{"s":40,"t":25,"v":0.084},{"s":40,"t":26,"v":0.0842},{"s":40,"t":27,"v":0.0838},{"s":40,"t":28,"v":0.084},{"s":40,"t":29,"v":0.0842},
{"s":41,"t":6,"v":0.0832},{"s":41,"t":7,"v":0.0835},{"s":41,"t":8,"v":0.0832},{"s":41,"t":9,"v":0.0833},{"s":41,"t":10,"v":0.0828},{"s":41,"t":11,"v":0.082},{"s":41,"t":12,"v":0.0822},{"s":41,"t":13,"v":0.082},{"s":41,"t":14,"v":0.0822},{"s":41,"t":15,"v":0.0818},{"s":41,"t":16,"v":0.0808},{"s":41,"t":17,"v":0.0825},{"s":41,"t":18,"v":0.083},{"s":41,"t":19,"v":0.0838},{"s":41,"t":20,"v":0.0843},{"s":41,"t":21,"v":0.0845},{"s":41,"t":22,"v":0.0852},{"s":41,"t":23,"v":0.0848},{"s":41,"t":24,"v":0.0845},{"s":41,"t":25,"v":0.085},{"s":41,"t":26,"v":0.0848},{"s":41,"t":27,"v":0.0845},{"s":41,"t":28,"v":0.085},{"s":41,"t":29,"v":0.0847},
{"s":42,"t":6,"v":0.0718},{"s":42,"t":7,"v":0.0713},{"s":42,"t":8,"v":0.0716},{"s":42,"t":9,"v":0.0711},{"s":42,"t":10,"v":0.0715},{"s":42,"t":11,"v":0.0719},{"s":42,"t":12,"v":0.0712},{"s":42,"t":13,"v":0.0716},{"s":42,"t":14,"v":0.071},{"s":42,"t":15,"v":0.0714},{"s":42,"t":16,"v":0.0718},{"s":42,"t":17,"v":0.0713},{"s":42,"t":18,"v":0.0717},{"s":42,"t":19,"v":0.0712},{"s":42,"t":20,"v":0.0716},{"s":42,"t":21,"v":0.072},{"s":42,"t":22,"v":0.0714},{"s":42,"t":23,"v":0.0717},{"s":42,"t":24,"v":0.0712},{"s":42,"t":25,"v":0.0716},{"s":42,"t":26,"v":0.0713},{"s":42,"t":27,"v":0.0717},{"s":42,"t":28,"v":0.0714},{"s":42,"t":29,"v":0.0718},
{"s":43,"t":6,"v":0.0668},{"s":43,"t":7,"v":0.0663},{"s":43,"t":8,"v":0.0666},{"s":43,"t":9,"v":0.0661},{"s":43,"t":10,"v":0.0665},{"s":43,"t":11,"v":0.0669},{"s":43,"t":12,"v":0.0662},{"s":43,"t":13,"v":0.0666},{"s":43,"t":14,"v":0.066},{"s":43,"t":15,"v":0.0664},{"s":43,"t":16,"v":0.0668},{"s":43,"t":17,"v":0.0663},{"s":43,"t":18,"v":0.0667},{"s":43,"t":19,"v":0.0662},{"s":43,"t":20,"v":0.0666},{"s":43,"t":21,"v":0.067},{"s":43,"t":22,"v":0.0664},{"s":43,"t":23,"v":0.0667},{"s":43,"t":24,"v":0.0662},{"s":43,"t":25,"v":0.0666},{"s":43,"t":26,"v":0.0663},{"s":43,"t":27,"v":0.0667},{"s":43,"t":28,"v":0.0664},{"s":43,"t":29,"v":0.0668},
{"s":44,"t":6,"v":0.0728},{"s":44,"t":7,"v":0.0723},{"s":44,"t":8,"v":0.0726},{"s":44,"t":9,"v":0.0721},{"s":44,"t":10,"v":0.0725},{"s":44,"t":11,"v":0.0729},{"s":44,"t":12,"v":0.0722},{"s":44,"t":13,"v":0.0726},{"s":44,"t":14,"v":0.072},{"s":44,"t":15,"v":0.0724},{"s":44,"t":16,"v":0.0728},{"s":44,"t":17,"v":0.0723},{"s":44,"t":18,"v":0.0727},{"s":44,"t":19,"v":0.0722},{"s":44,"t":20,"v":0.0726},{"s":44,"t":21,"v":0.073},{"s":44,"t":22,"v":0.0724},{"s":44,"t":23,"v":0.0727},{"s":44,"t":24,"v":0.0722},{"s":44,"t":25,"v":0.0726},{"s":44,"t":26,"v":0.0723},{"s":44,"t":27,"v":0.0727},{"s":44,"t":28,"v":0.0724},{"s":44,"t":29,"v":0.0728},
{"s":45,"t":6,"v":0.0362},{"s":45,"t":7,"v":0.0358},{"s":45,"t":8,"v":0.0365},{"s":45,"t":9,"v":0.036},{"s":45,"t":10,"v":0.0356},{"s":45,"t":11,"v":0.0352},{"s":45,"t":12,"v":0.0355},{"s":45,"t":13,"v":0.035},{"s":45,"t":14,"v":0.0353},{"s":45,"t":15,"v":0.0349},{"s":45,"t":16,"v":0.0352},{"s":45,"t":17,"v":0.035},{"s":45,"t":18,"v":0.0354},{"s":45,"t":19,"v":0.0351},{"s":45,"t":20,"v":0.0355},{"s":45,"t":21,"v":0.0358},{"s":45,"t":22,"v":0.0362},{"s":45,"t":23,"v":0.036},{"s":45,"t":24,"v":0.0364},{"s":45,"t":25,"v":0.0361},{"s":45,"t":26,"v":0.0365},{"s":45,"t":27,"v":0.0368},{"s":45,"t":28,"v":0.0372},{"s":45,"t":29,"v":0.0375},
{"s":46,"t":6,"v":0.0372},{"s":46,"t":7,"v":0.0368},{"s":46,"t":8,"v":0.0375},{"s":46,"t":9,"v":0.038},{"s":46,"t":10,"v":0.0374},{"s":46,"t":11,"v":0.0369},{"s":46,"t":12,"v":0.0373},{"s":46,"t":13,"v":0.0368},{"s":46,"t":14,"v":0.0371},{"s":46,"t":15,"v":0.0366},{"s":46,"t":16,"v":0.037},{"s":46,"t":17,"v":0.0367},{"s":46,"t":18,"v":0.0372},{"s":46,"t":19,"v":0.0368},{"s":46,"t":20,"v":0.0371},{"s":46,"t":21,"v":0.0366},{"s":46,"t":22,"v":0.037},{"s":46,"t":23,"v":0.0367},{"s":46,"t":24,"v":0.0372},{"s":46,"t":25,"v":0.0369},{"s":46,"t":26,"v":0.0373},{"s":46,"t":27,"v":0.0368},{"s":46,"t":28,"v":0.0371},{"s":46,"t":29,"v":0.0369}
]},
"data":{"name":"d"},
"transform":[{"lookup":"s","from":{"data":{"name":"names"},"key":"s","fields":["n"]}}],
"mark":{"type":"line","strokeWidth":2.5,"strokeJoin":"round","clip":true},
"encoding":{
"x":{"field":"t","type":"quantitative","scale":{"domain":[6,29.25],"nice":false,"zero":false},
 "axis":{"title":null,"values":[6,7,8,9,10,11,12,13,14,15,16,17,18,19,20,21,22,23,24,25,26,27,28,29,9.5,13.5,17.5,21.5,25.5],
  "labelExpr":"datum.value % 1 != 0 ? (floor(datum.value) % 24) + ':30' : ''",
  "domain":false,"ticks":false,"labelPadding":1,"labelFontSize":10,"labelColor":"#777777","labelOverlap":false,"labelFlush":false,
  "gridColor":"#dddddd","gridOpacity":{"condition":{"test":"datum.value % 1 != 0","value":0},"value":1}}},
"y":{"field":"v","type":"quantitative","scale":{"domain":[0.02,0.12],"nice":false,"zero":false},
 "axis":{"title":"μSv/h","titleColor":"#5b7fae","titleFontWeight":"normal","titleFontSize":10,"titlePadding":4,
  "values":[0.02,0.022,0.024,0.026,0.028,0.03,0.032,0.034,0.036,0.038,0.04,0.042,0.044,0.046,0.048,0.05,0.052,0.054,0.056,0.058,0.06,0.062,0.064,0.066,0.068,0.07,0.072,0.074,0.076,0.078,0.08,0.082,0.084,0.086,0.088,0.09,0.092,0.094,0.096,0.098,0.1,0.102,0.104,0.106,0.108,0.11,0.112,0.114,0.116,0.118,0.12],
  "format":".2~f",
  "labelExpr":"abs(datum.value*100 - round(datum.value*100)) < 0.01 ? datum.label : ''",
  "domain":false,"ticks":false,"labelPadding":8,"labelFontSize":10,"labelColor":"#777777","labelOverlap":false,
  "gridColor":{"condition":{"test":"abs(datum.value*100 - round(datum.value*100)) < 0.01","value":"#d4d4d4"},"value":"#e6e6e6"}}},
"color":{"field":"n","type":"nominal",
 "scale":{
 "domain":["福島県(大沢三)","兵庫県(神戸市)","山口県(山口市)","岐阜県(下呂市)","三重県(尾鷲市)","島根県(奥出雲)","大阪府(東大阪)","岡山県(笠岡市)","栃木県(那須塩)","愛知県(岡崎市)","愛媛県(松山市)","広島県(東広島)","香川県(さぬき)","富山県(富山市)","和歌山(新宮市)","埼玉県(三郷市)","滋賀県(甲賀市)","茨城県(常総市)","長野県(大町市)","京都府(京都市)","新潟県(村上市)","福岡県(北九州)","千葉県(香取市)","奈良県(奈良市)","福井県(あわら)","高知県(四万十)","長崎県(壱岐市)","鳥取県(湯梨浜)","石川県(津幡町)","徳島県(三好市)","宮城県(丸森町)","佐賀県(武雄市)","静岡県(御前崎)","大分県(佐伯市)","宮崎県(延岡市)","群馬県(太田市)","熊本県(天草市)","岩手県(久慈市)","鹿児島(霧島市)","山梨県(甲府市)","神奈川(横浜市)","秋田県(由利本)","山形県(三川町)","沖縄県(那覇市)","青森県(深浦町)","北海道(帯広市)","東京都(新宿区)"," ","  ","   ","    ","     ","      ","       ","        ","         ","          "],
 "range":["#c8c8c8","#be4b48","#98b954","#7d60a0","#46aac5","#f69240","#93a9d0","#a67d7b","#b9cf95","#4a7ebb","#be4b48","#98b954","#7d60a0","#46aac5","#f69240","#93a9d0","#a67d7b","#b9cf95","#4a7ebb","#be4b48","#98b954","#7d60a0","#46aac5","#f69240","#93a9d0","#a67d7b","#b9cf95","#4a7ebb","#be4b48","#98b954","#7d60a0","#46aac5","#f69240","#93a9d0","#a67d7b","#b9cf95","#4a7ebb","#be4b48","#98b954","#7d60a0","#46aac5","#f69240","#93a9d0","#a67d7b","#b9cf95","#4a7ebb","#be4b48","rgba(0,0,0,0)","rgba(0,0,0,0)","rgba(0,0,0,0)","rgba(0,0,0,0)","rgba(0,0,0,0)","rgba(0,0,0,0)","rgba(0,0,0,0)","rgba(0,0,0,0)","rgba(0,0,0,0)","rgba(0,0,0,0)"]},
 "legend":{"title":null,"orient":"none","legendX":319,"legendY":58,"columns":3,"symbolLimit":100,"symbolType":"stroke","symbolSize":144,"symbolStrokeWidth":2.5,"labelFontSize":9,"labelColor":"#888888","labelOffset":4,"columnPadding":3,"rowPadding":1.3,"padding":0,"labelLimit":0,
  "encode":{"labels":{"update":{"fill":{"signal":"datum.value === '福島県(大沢三)' ? '#cccccc' : '#888888'"}}}}}}
},
"config":{"view":{"stroke":null},"font":"Noto Sans CJK JP"}
}
